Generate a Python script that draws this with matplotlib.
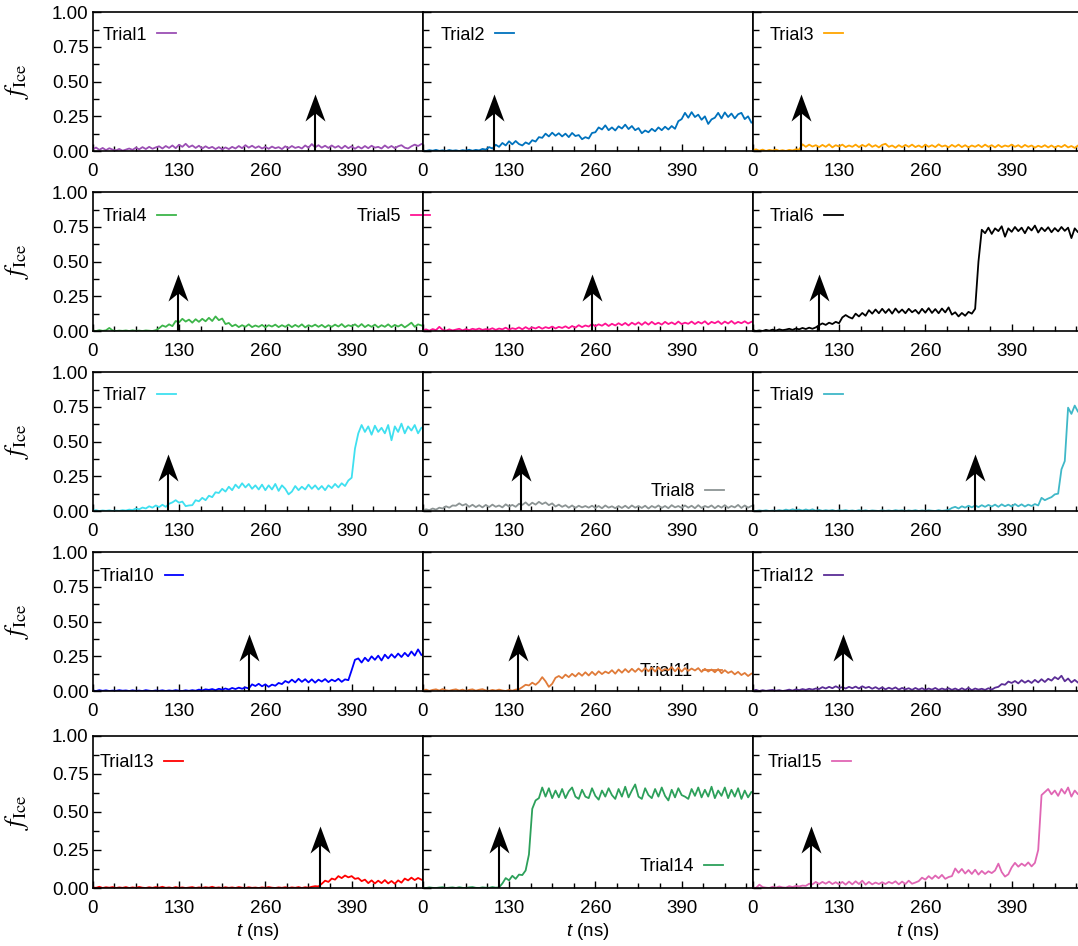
import numpy as np
import matplotlib
matplotlib.use("Agg")
import matplotlib.pyplot as plt
from matplotlib.path import Path
from matplotlib.ticker import MultipleLocator, FormatStrFormatter

plt.rcParams['font.family'] = ['Liberation Sans', 'DejaVu Sans']
plt.rcParams['mathtext.fontset'] = 'custom'
plt.rcParams['mathtext.it'] = 'Liberation Sans:italic'
plt.rcParams['mathtext.rm'] = 'Liberation Sans'

# ---------------- data ----------------
t_ns = np.arange(0, 500, 5)  # sampling grid (ns)

trial1 = [0.012, 0.025, 0.008, 0.022, 0.006, 0.020, 0.010, 0.004, 0.015, 0.002,
          0.010, 0.018, 0.008, 0.024, 0.012, 0.028, 0.014, 0.030, 0.016, 0.026,
          0.034, 0.018, 0.036, 0.022, 0.040, 0.020, 0.045, 0.030, 0.052, 0.028,
          0.040, 0.022, 0.038, 0.018, 0.034, 0.020, 0.030, 0.014, 0.028, 0.012,
          0.026, 0.014, 0.030, 0.018, 0.036, 0.020, 0.042, 0.024, 0.038, 0.022,
          0.034, 0.018, 0.030, 0.016, 0.032, 0.020, 0.028, 0.014, 0.034, 0.020,
          0.036, 0.022, 0.030, 0.018, 0.040, 0.024, 0.050, 0.026, 0.042, 0.024,
          0.038, 0.022, 0.040, 0.024, 0.036, 0.018, 0.038, 0.020, 0.034, 0.016,
          0.032, 0.018, 0.036, 0.020, 0.038, 0.024, 0.030, 0.018, 0.040, 0.022,
          0.036, 0.020, 0.034, 0.042, 0.024, 0.018, 0.034, 0.046, 0.036, 0.050]

trial2 = [0.004, 0.000, 0.006, 0.002, 0.008, 0.001, 0.005, 0.000, 0.007, 0.002,
          0.005, 0.000, 0.006, 0.003, 0.009, 0.002, 0.008, 0.004, 0.015, 0.010,
          0.028, 0.018, 0.045, 0.030, 0.058, 0.040, 0.070, 0.048, 0.072, 0.050,
          0.040, 0.062, 0.050, 0.078, 0.068, 0.100, 0.095, 0.125, 0.105, 0.132,
          0.110, 0.128, 0.105, 0.125, 0.100, 0.130, 0.108, 0.115, 0.085, 0.100,
          0.090, 0.130, 0.135, 0.170, 0.155, 0.185, 0.150, 0.170, 0.148, 0.178,
          0.162, 0.190, 0.158, 0.180, 0.150, 0.165, 0.128, 0.148, 0.135, 0.160,
          0.142, 0.170, 0.150, 0.175, 0.155, 0.180, 0.160, 0.215, 0.230, 0.275,
          0.240, 0.280, 0.245, 0.262, 0.225, 0.250, 0.195, 0.228, 0.240, 0.275,
          0.235, 0.278, 0.245, 0.270, 0.235, 0.265, 0.275, 0.230, 0.250, 0.205]

trial3 = [0.004, 0.012, 0.002, 0.010, 0.000, 0.008, 0.003, 0.010, 0.001, 0.006,
          0.000, 0.008, 0.004, 0.012, 0.010, 0.048, 0.030, 0.046, 0.032, 0.042,
          0.028, 0.044, 0.030, 0.048, 0.026, 0.042, 0.032, 0.046, 0.028, 0.040,
          0.030, 0.046, 0.028, 0.044, 0.032, 0.050, 0.030, 0.042, 0.026, 0.044,
          0.052, 0.030, 0.040, 0.024, 0.042, 0.028, 0.044, 0.030, 0.046, 0.028,
          0.040, 0.026, 0.046, 0.030, 0.042, 0.028, 0.048, 0.032, 0.040, 0.026,
          0.044, 0.030, 0.046, 0.028, 0.042, 0.026, 0.040, 0.030, 0.044, 0.028,
          0.046, 0.030, 0.042, 0.026, 0.044, 0.028, 0.040, 0.032, 0.046, 0.030,
          0.042, 0.026, 0.044, 0.030, 0.040, 0.024, 0.038, 0.028, 0.042, 0.026,
          0.040, 0.024, 0.038, 0.028, 0.044, 0.026, 0.036, 0.022, 0.040, 0.030]

trial4 = [0.004, 0.000, 0.006, 0.001, 0.005, 0.022, 0.004, 0.000, 0.003, 0.001,
          0.004, 0.000, 0.005, 0.001, 0.003, 0.000, 0.004, 0.002, 0.000, 0.006,
          0.020, 0.040, 0.030, 0.048, 0.035, 0.072, 0.062, 0.088, 0.068, 0.082,
          0.060, 0.085, 0.066, 0.088, 0.070, 0.095, 0.072, 0.105, 0.078, 0.090,
          0.050, 0.058, 0.034, 0.046, 0.028, 0.042, 0.030, 0.048, 0.028, 0.040,
          0.030, 0.044, 0.026, 0.042, 0.032, 0.046, 0.028, 0.042, 0.030, 0.046,
          0.028, 0.044, 0.030, 0.048, 0.026, 0.042, 0.032, 0.046, 0.030, 0.044,
          0.026, 0.042, 0.030, 0.046, 0.032, 0.050, 0.028, 0.042, 0.034, 0.048,
          0.030, 0.050, 0.028, 0.044, 0.030, 0.046, 0.026, 0.042, 0.030, 0.048,
          0.028, 0.044, 0.032, 0.046, 0.026, 0.042, 0.060, 0.030, 0.048, 0.040]

trial5 = [0.004, 0.012, 0.002, 0.014, 0.006, 0.030, 0.008, 0.002, 0.012, 0.004,
          0.010, 0.016, 0.004, 0.014, 0.006, 0.016, 0.010, 0.018, 0.008, 0.014,
          0.010, 0.020, 0.008, 0.018, 0.012, 0.024, 0.010, 0.020, 0.014, 0.026,
          0.012, 0.028, 0.014, 0.026, 0.018, 0.030, 0.016, 0.028, 0.020, 0.032,
          0.018, 0.030, 0.022, 0.034, 0.020, 0.036, 0.024, 0.042, 0.028, 0.040,
          0.032, 0.050, 0.034, 0.048, 0.038, 0.054, 0.036, 0.052, 0.040, 0.056,
          0.042, 0.058, 0.040, 0.060, 0.046, 0.062, 0.044, 0.064, 0.046, 0.066,
          0.048, 0.060, 0.046, 0.066, 0.050, 0.062, 0.048, 0.068, 0.050, 0.060,
          0.052, 0.068, 0.050, 0.066, 0.054, 0.070, 0.048, 0.066, 0.056, 0.070,
          0.050, 0.068, 0.054, 0.072, 0.052, 0.066, 0.056, 0.070, 0.054, 0.066]

trial6 = [0.006, 0.000, 0.004, 0.000, 0.008, 0.002, 0.010, 0.003, 0.012, 0.006,
          0.010, 0.016, 0.008, 0.018, 0.012, 0.022, 0.014, 0.024, 0.016, 0.026,
          0.042, 0.055, 0.044, 0.060, 0.050, 0.066, 0.056, 0.098, 0.115, 0.100,
          0.090, 0.125, 0.105, 0.130, 0.110, 0.150, 0.125, 0.155, 0.128, 0.160,
          0.130, 0.158, 0.125, 0.162, 0.132, 0.155, 0.128, 0.160, 0.135, 0.152,
          0.125, 0.160, 0.132, 0.165, 0.130, 0.158, 0.128, 0.162, 0.134, 0.170,
          0.118, 0.135, 0.105, 0.130, 0.110, 0.138, 0.125, 0.160, 0.500, 0.730,
          0.705, 0.745, 0.700, 0.740, 0.720, 0.755, 0.680, 0.740, 0.715, 0.750,
          0.720, 0.745, 0.705, 0.750, 0.725, 0.760, 0.710, 0.745, 0.720, 0.748,
          0.712, 0.742, 0.718, 0.750, 0.722, 0.745, 0.670, 0.740, 0.712, 0.735]

trial7 = [0.002, 0.006, 0.000, 0.004, 0.001, 0.005, 0.000, 0.003, 0.001, 0.006,
          0.003, 0.010, 0.006, 0.018, 0.012, 0.025, 0.018, 0.034, 0.024, 0.040,
          0.028, 0.045, 0.030, 0.052, 0.062, 0.078, 0.060, 0.068, 0.035, 0.040,
          0.042, 0.078, 0.070, 0.095, 0.078, 0.110, 0.100, 0.135, 0.130, 0.160,
          0.140, 0.175, 0.150, 0.190, 0.165, 0.200, 0.170, 0.195, 0.160, 0.185,
          0.155, 0.190, 0.150, 0.185, 0.155, 0.195, 0.145, 0.185, 0.160, 0.120,
          0.140, 0.180, 0.150, 0.175, 0.155, 0.190, 0.160, 0.185, 0.155, 0.180,
          0.150, 0.185, 0.165, 0.195, 0.170, 0.200, 0.180, 0.220, 0.240, 0.450,
          0.560, 0.620, 0.570, 0.610, 0.550, 0.615, 0.570, 0.600, 0.560, 0.620,
          0.510, 0.610, 0.570, 0.630, 0.560, 0.610, 0.580, 0.620, 0.560, 0.600]

trial8 = [0.004, 0.012, 0.006, 0.018, 0.010, 0.024, 0.018, 0.034, 0.024, 0.040,
          0.038, 0.055, 0.040, 0.050, 0.030, 0.045, 0.028, 0.042, 0.026, 0.044,
          0.028, 0.046, 0.030, 0.040, 0.026, 0.048, 0.032, 0.044, 0.030, 0.052,
          0.044, 0.062, 0.040, 0.060, 0.046, 0.066, 0.050, 0.062, 0.042, 0.055,
          0.032, 0.046, 0.030, 0.042, 0.024, 0.040, 0.022, 0.038, 0.026, 0.036,
          0.024, 0.038, 0.022, 0.036, 0.020, 0.040, 0.024, 0.034, 0.020, 0.036,
          0.022, 0.038, 0.020, 0.040, 0.024, 0.036, 0.022, 0.038, 0.018, 0.036,
          0.024, 0.040, 0.022, 0.036, 0.020, 0.042, 0.026, 0.036, 0.022, 0.040,
          0.024, 0.038, 0.020, 0.042, 0.022, 0.036, 0.026, 0.040, 0.020, 0.038,
          0.024, 0.042, 0.022, 0.036, 0.026, 0.044, 0.022, 0.040, 0.024, 0.036]

trial9 = [0.002, 0.000, 0.004, 0.001, 0.005, 0.000, 0.003, 0.001, 0.006, 0.002,
          0.010, 0.004, 0.012, 0.006, 0.010, 0.003, 0.011, 0.004, 0.012, 0.002,
          0.008, 0.001, 0.006, 0.002, 0.007, 0.000, 0.005, 0.002, 0.006, 0.001,
          0.004, 0.000, 0.006, 0.001, 0.005, 0.000, 0.004, 0.002, 0.000, 0.005,
          0.001, 0.004, 0.000, 0.006, 0.002, 0.005, 0.000, 0.004, 0.001, 0.006,
          0.000, 0.004, 0.001, 0.005, 0.002, 0.000, 0.006, 0.001, 0.004, 0.008,
          0.022, 0.030, 0.018, 0.034, 0.024, 0.038, 0.026, 0.040, 0.028, 0.042,
          0.030, 0.044, 0.032, 0.046, 0.030, 0.048, 0.034, 0.046, 0.032, 0.050,
          0.034, 0.048, 0.032, 0.046, 0.036, 0.050, 0.040, 0.095, 0.078, 0.090,
          0.100, 0.120, 0.125, 0.300, 0.360, 0.745, 0.700, 0.760, 0.715, 0.750]

trial10 = [0.004, 0.000, 0.006, 0.001, 0.005, 0.000, 0.003, 0.001, 0.006, 0.002,
           0.004, 0.000, 0.005, 0.001, 0.003, 0.000, 0.006, 0.002, 0.000, 0.004,
           0.001, 0.005, 0.000, 0.004, 0.001, 0.006, 0.002, 0.000, 0.005, 0.001,
           0.006, 0.002, 0.010, 0.004, 0.012, 0.008, 0.014, 0.006, 0.016, 0.010,
           0.018, 0.010, 0.022, 0.014, 0.024, 0.016, 0.026, 0.018, 0.048, 0.036,
           0.052, 0.034, 0.048, 0.030, 0.046, 0.038, 0.058, 0.050, 0.072, 0.060,
           0.082, 0.062, 0.088, 0.066, 0.085, 0.062, 0.084, 0.060, 0.082, 0.068,
           0.086, 0.064, 0.082, 0.070, 0.088, 0.066, 0.084, 0.078, 0.150, 0.225,
           0.235, 0.205, 0.240, 0.215, 0.250, 0.225, 0.255, 0.220, 0.262, 0.235,
           0.265, 0.240, 0.270, 0.245, 0.275, 0.250, 0.285, 0.255, 0.300, 0.260]

trial11 = [0.004, 0.010, 0.001, 0.008, 0.012, 0.003, 0.014, 0.005, 0.002, 0.008,
           0.012, 0.003, 0.010, 0.001, 0.008, 0.012, 0.002, 0.009, 0.013, 0.004,
           0.001, 0.008, 0.003, 0.010, 0.004, 0.000, 0.008, 0.002, 0.010, 0.012,
           0.028, 0.045, 0.040, 0.060, 0.045, 0.066, 0.100, 0.070, 0.030, 0.052,
           0.095, 0.108, 0.092, 0.118, 0.100, 0.124, 0.105, 0.130, 0.110, 0.135,
           0.112, 0.138, 0.115, 0.142, 0.122, 0.140, 0.128, 0.150, 0.125, 0.155,
           0.132, 0.158, 0.135, 0.160, 0.138, 0.162, 0.140, 0.165, 0.142, 0.168,
           0.140, 0.170, 0.145, 0.158, 0.150, 0.172, 0.142, 0.168, 0.140, 0.165,
           0.145, 0.162, 0.148, 0.165, 0.138, 0.160, 0.140, 0.155, 0.135, 0.158,
           0.128, 0.150, 0.130, 0.142, 0.120, 0.138, 0.115, 0.130, 0.108, 0.125]

trial12 = [0.002, 0.008, 0.000, 0.006, 0.001, 0.005, 0.008, 0.002, 0.006, 0.000,
           0.004, 0.010, 0.003, 0.012, 0.006, 0.014, 0.008, 0.016, 0.010, 0.018,
           0.014, 0.028, 0.018, 0.030, 0.020, 0.034, 0.022, 0.028, 0.018, 0.030,
           0.020, 0.032, 0.018, 0.034, 0.022, 0.030, 0.016, 0.028, 0.014, 0.026,
           0.012, 0.024, 0.014, 0.026, 0.010, 0.022, 0.012, 0.020, 0.008, 0.022,
           0.010, 0.020, 0.008, 0.018, 0.010, 0.022, 0.008, 0.018, 0.010, 0.020,
           0.008, 0.018, 0.006, 0.020, 0.008, 0.022, 0.006, 0.018, 0.010, 0.016,
           0.008, 0.020, 0.010, 0.024, 0.030, 0.050, 0.045, 0.068, 0.058, 0.072,
           0.055, 0.078, 0.060, 0.075, 0.058, 0.080, 0.062, 0.085, 0.065, 0.088,
           0.075, 0.100, 0.085, 0.110, 0.070, 0.090, 0.062, 0.080, 0.060, 0.078]

trial13 = [0.004, 0.001, 0.008, 0.000, 0.005, 0.002, 0.006, 0.000, 0.004, 0.001,
           0.006, 0.000, 0.004, 0.001, 0.007, 0.002, 0.000, 0.005, 0.001, 0.006,
           0.002, 0.008, 0.001, 0.004, 0.000, 0.006, 0.001, 0.004, 0.000, 0.003,
           0.006, 0.000, 0.004, 0.001, 0.005, 0.002, 0.008, 0.001, 0.004, 0.000,
           0.005, 0.001, 0.004, 0.000, 0.006, 0.002, 0.000, 0.005, 0.001, 0.003,
           0.000, 0.004, 0.001, 0.006, 0.002, 0.000, 0.004, 0.001, 0.005, 0.000,
           0.004, 0.001, 0.006, 0.000, 0.005, 0.002, 0.008, 0.012, 0.010, 0.028,
           0.048, 0.040, 0.062, 0.055, 0.078, 0.065, 0.082, 0.070, 0.078, 0.060,
           0.065, 0.045, 0.055, 0.032, 0.050, 0.030, 0.048, 0.032, 0.052, 0.030,
           0.046, 0.028, 0.050, 0.035, 0.062, 0.050, 0.068, 0.052, 0.066, 0.055]

trial14 = [0.002, 0.000, 0.004, 0.001, 0.000, 0.003, 0.005, 0.000, 0.002, 0.004,
           0.000, 0.005, 0.001, 0.000, 0.004, 0.006, 0.001, 0.000, 0.004, 0.002,
           0.001, 0.006, 0.002, 0.004, 0.030, 0.065, 0.050, 0.080, 0.060, 0.088,
           0.085, 0.115, 0.220, 0.520, 0.575, 0.590, 0.660, 0.600, 0.655, 0.590,
           0.640, 0.595, 0.650, 0.590, 0.635, 0.660, 0.600, 0.585, 0.645, 0.600,
           0.590, 0.655, 0.605, 0.580, 0.640, 0.600, 0.655, 0.610, 0.585, 0.650,
           0.600, 0.665, 0.595, 0.640, 0.680, 0.600, 0.585, 0.655, 0.610, 0.590,
           0.650, 0.600, 0.660, 0.605, 0.575, 0.645, 0.595, 0.655, 0.610, 0.600,
           0.585, 0.650, 0.605, 0.660, 0.595, 0.645, 0.600, 0.665, 0.590, 0.640,
           0.605, 0.660, 0.590, 0.645, 0.600, 0.655, 0.585, 0.640, 0.595, 0.630]

trial15 = [0.004, 0.000, 0.022, 0.006, 0.002, 0.000, 0.008, 0.002, 0.010, 0.004,
           0.002, 0.012, 0.006, 0.014, 0.010, 0.016, 0.014, 0.028, 0.024, 0.040,
           0.026, 0.040, 0.028, 0.042, 0.026, 0.038, 0.024, 0.040, 0.022, 0.042,
           0.024, 0.044, 0.026, 0.048, 0.022, 0.040, 0.024, 0.036, 0.026, 0.038,
           0.026, 0.040, 0.030, 0.044, 0.024, 0.042, 0.026, 0.048, 0.028, 0.036,
           0.045, 0.068, 0.055, 0.078, 0.060, 0.082, 0.064, 0.086, 0.060, 0.072,
           0.078, 0.128, 0.100, 0.125, 0.095, 0.118, 0.092, 0.120, 0.088, 0.112,
           0.092, 0.110, 0.098, 0.115, 0.160, 0.105, 0.075, 0.090, 0.135, 0.165,
           0.140, 0.160, 0.145, 0.168, 0.142, 0.165, 0.250, 0.610, 0.630, 0.650,
           0.615, 0.640, 0.605, 0.650, 0.620, 0.660, 0.600, 0.640, 0.615, 0.650]

series = [trial1, trial2, trial3, trial4, trial5, trial6, trial7, trial8,
          trial9, trial10, trial11, trial12, trial13, trial14, trial15]
labels = [f"Trial{i}" for i in range(1, 16)]
colors = ["#9B4FB4", "#0072BD", "#FFA500", "#3DB54A", "#FF1493",
          "#000000", "#3FE0F0", "#8C9494", "#3FB8C8", "#0000FF",
          "#E07B39", "#5B2D96", "#FF0000", "#2CA05A", "#E066B4"]
arrow_t = [335, 107, 72, 129, 255, 100, 113, 148, 335, 235, 144, 136, 342, 115, 88]
arrow_tip = 0.41

xticks = [0, 130, 260, 390]
yticks = [0.0, 0.25, 0.5, 0.75, 1.0]

# ---------------- layout ----------------
W, H = 1078, 946
fig = plt.figure(figsize=(W / 100, H / 100), dpi=100)

col_left = [92.7, 422.7, 752.7]
col_w = 330.0
rows = [(12.3, 151.0), (192.3, 331.0), (372.3, 511.0), (552.3, 691.0), (735.7, 888.0)]

legend_pos = [(0.031, 0.835), (0.055, 0.835), (0.052, 0.835),
              (0.031, 0.825), (-0.199, 0.825), (0.052, 0.825),
              (0.031, 0.830), (0.692, 0.139), (0.052, 0.830),
              (0.022, 0.825), (0.658, 0.141), (0.022, 0.825),
              (0.022, 0.823), (0.658, 0.140), (0.044, 0.823)]

head = Path([(0, 0), (-0.37, -1.0), (0, -0.70), (0.37, -1.0), (0, 0)],
            [Path.MOVETO, Path.LINETO, Path.LINETO, Path.LINETO, Path.CLOSEPOLY])

for r, (ytop, ybot) in enumerate(rows):
    for c in range(3):
        i = r * 3 + c
        ax = fig.add_axes([col_left[c] / W, 1 - ybot / H, col_w / W, (ybot - ytop) / H])
        line, = ax.plot(t_ns, series[i], color=colors[i], lw=1.3, label=labels[i], zorder=2)
        # arrow marking the event time
        ax.plot([arrow_t[i], arrow_t[i]], [0, arrow_tip - 0.05], color='black', lw=1.5,
                zorder=4, solid_capstyle='butt')
        ax.plot([arrow_t[i]], [arrow_tip], marker=head, ms=39, mew=0, color='black',
                linestyle='none', zorder=4)

        ax.set_xlim(0, 497)
        ax.set_ylim(0, 1.0)
        ax.xaxis.set_minor_locator(MultipleLocator(32.5))
        ax.yaxis.set_minor_locator(MultipleLocator(0.125))
        ax.set_xticks(xticks)
        ax.set_yticks(yticks)
        ax.yaxis.set_major_formatter(FormatStrFormatter('%.2f'))
        ax.tick_params(which='both', direction='in', top=False, right=False,
                       labelsize=13.5, width=1.0, colors='black')
        ax.tick_params(axis='x', which='major', length=5, pad=8.5)
        ax.tick_params(axis='x', which='minor', length=3.5)
        ax.tick_params(axis='y', which='major', length=5.5, pad=3)
        ax.tick_params(axis='y', which='minor', length=4.5)
        for s in ax.spines.values():
            s.set_linewidth(1.2)
        if c == 0:
            ax.set_ylabel(r'$f_{\mathrm{Ice}}$', fontsize=19, math_fontfamily='stix')
            ax.yaxis.set_label_coords(-0.23, 0.5)
            ax.yaxis.label.set_va('center')
        else:
            ax.tick_params(axis='y', labelleft=False)
        if r == 4:
            ax.set_xlabel(r'$t$ (ns)', fontsize=13.5)
            ax.xaxis.set_label_coords(0.5, -(931.7 - ybot) / (ybot - ytop))
            ax.xaxis.label.set_va('center')

        leg = ax.legend(handles=[line], loc='center left', bbox_to_anchor=legend_pos[i],
                        frameon=False, markerfirst=False, fontsize=13,
                        handlelength=1.05, handletextpad=0.55, borderpad=0,
                        borderaxespad=0)
        leg.set_zorder(1)

fig.savefig('out.png', dpi=100)
